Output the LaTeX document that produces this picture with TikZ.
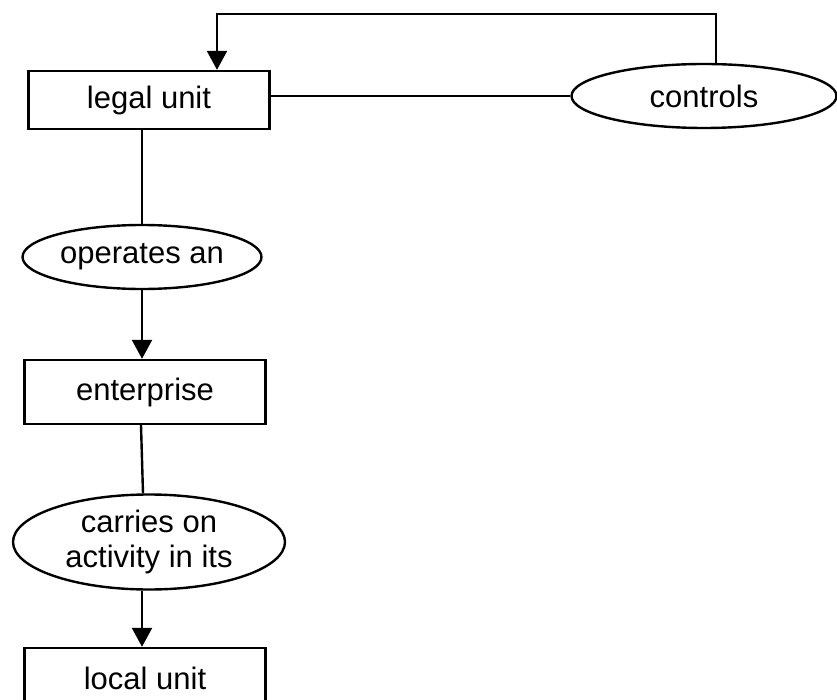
\documentclass[tikz,border=0pt]{standalone}
\usepackage{fontspec}
\setmainfont{Liberation Sans}
\usetikzlibrary{shapes.geometric,arrows.meta}
\begin{document}
\begin{tikzpicture}[x=1pt,y=-1pt,
  every node/.style={font=\fontsize{31}{35}\selectfont, inner sep=0pt},
  unitbox/.style={draw, line width=2.4pt, rectangle, minimum width=241pt, minimum height=58pt},
  relation/.style={draw, line width=2.4pt, ellipse, align=center},
  link/.style={line width=2.4pt},
  flow/.style={line width=2.4pt, -{Triangle[length=19pt,width=20pt]}}]
\useasboundingbox (0,0) rectangle (837,700);
\node[unitbox] (legal) at (149,100) {legal unit};
\node[relation, minimum width=265pt, minimum height=64pt] (controls) at (704,96) {controls};
\node[relation, minimum width=239pt, minimum height=64pt] (operates) at (142,257) {operates an};
\node[unitbox, minimum height=64pt] (enterprise) at (145,392) {enterprise};
\node[relation, minimum width=272pt, minimum height=95pt] (carries) at (149,542) {carries on\\activity in its};
\node[unitbox, minimum height=60pt] (local) at (145,678) {local unit};
\coordinate (loop) at (217,14);
\draw[link] (legal.east |- controls.west) -- (controls.west);
\draw[flow] (controls.north -| 716,0) |- (loop) -- (loop |- legal.north);
\draw[link] (legal.south -| 142,0) -- (operates.north);
\draw[flow] (operates.south) -- (enterprise.north -| 142,0);
\draw[link] (enterprise.south -| 141,0) -- (carries.north -| 143,0);
\draw[flow] (carries.south -| 142,0) -- (local.north -| 142,0);
\end{tikzpicture}
\end{document}
